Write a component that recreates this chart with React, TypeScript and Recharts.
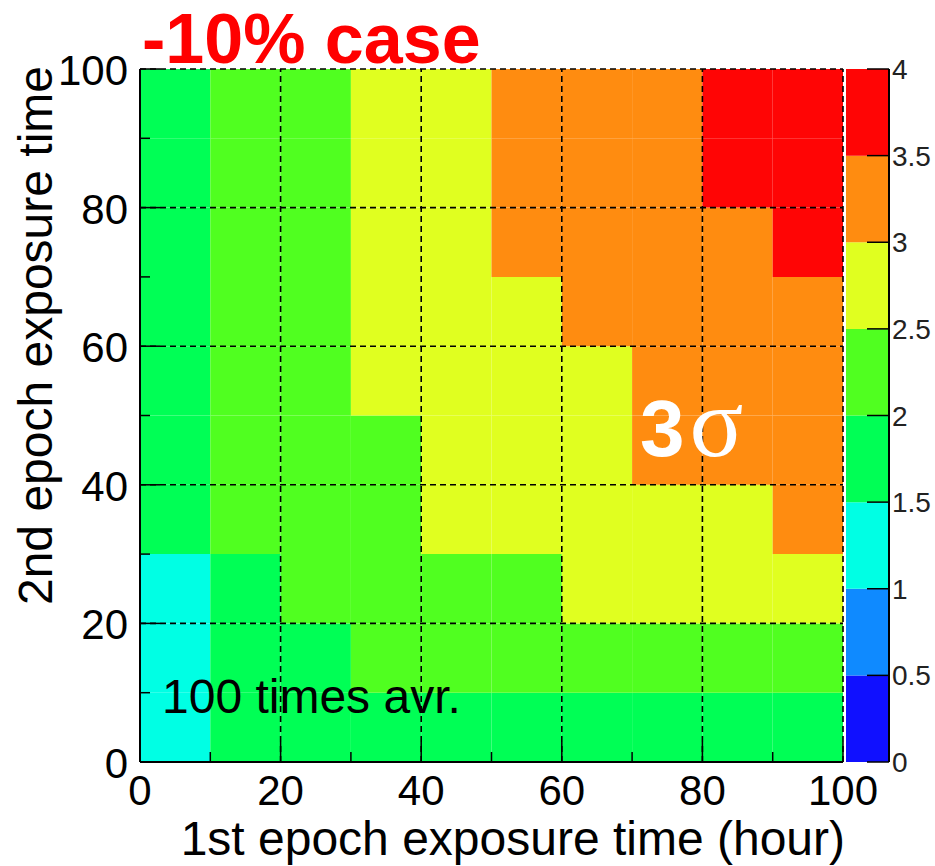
import React from "react";
import { ComposedChart, XAxis, YAxis, ReferenceArea, ReferenceLine } from "recharts";

// bin edges in hours, both epochs
const xEdges = [0, 10, 20, 30, 40, 50, 60, 70, 80, 90, 100];
const yEdges = [0, 10, 20, 30, 40, 50, 60, 70, 80, 90, 100];
const axisTicks = [0, 10, 20, 30, 40, 50, 60, 70, 80, 90, 100];
const gridValues = [20, 40, 60, 80, 100];

// significance (sigma), one row per 2nd-epoch bin from bottom to top,
// columns are the 1st-epoch bins
const row0 = [1.25, 1.62, 1.7, 1.76, 1.81, 1.85, 1.88, 1.91, 1.94, 1.96];
const row1 = [1.32, 1.8, 1.95, 2.08, 2.15, 2.21, 2.26, 2.3, 2.34, 2.37];
const row2 = [1.38, 1.92, 2.1, 2.25, 2.36, 2.45, 2.55, 2.63, 2.7, 2.76];
const row3 = [1.55, 2.02, 2.2, 2.38, 2.52, 2.63, 2.74, 2.84, 2.93, 3.02];
const row4 = [1.6, 2.06, 2.27, 2.45, 2.6, 2.73, 2.86, 3.05, 3.12, 3.18];
const row5 = [1.64, 2.1, 2.31, 2.52, 2.66, 2.8, 2.93, 3.08, 3.18, 3.25];
const row6 = [1.67, 2.13, 2.35, 2.57, 2.72, 2.87, 3.01, 3.14, 3.24, 3.31];
const row7 = [1.7, 2.16, 2.38, 2.61, 2.77, 3.02, 3.08, 3.2, 3.31, 3.52];
const row8 = [1.72, 2.18, 2.41, 2.65, 2.81, 3.05, 3.13, 3.26, 3.55, 3.62];
const row9 = [1.74, 2.2, 2.43, 2.68, 2.85, 3.09, 3.18, 3.31, 3.6, 3.68];
const sigRows = [row0, row1, row2, row3, row4, row5, row6, row7, row8, row9];

// contour levels of the palette
const levelEdges = [0, 0.5, 1, 1.5, 2, 2.5, 3, 3.5, 4];
const levelColors = ["#1010ff", "#0f8aff", "#00ffe4", "#00ff55", "#50ff20", "#e0ff20", "#ff8c10", "#ff0505"];
const paletteTicks = [0, 0.5, 1, 1.5, 2, 2.5, 3, 3.5, 4];

const SANS = '"Liberation Sans", Arial, Helvetica, sans-serif';
const SERIF = '"Liberation Serif", "DejaVu Serif", serif';
const GRID_DASH = "6 4";
const INK = "#000";

const MAP_W = 935;
const MAP_H = 866;
const MAP_MARGIN = { top: 69, right: 92, bottom: 103, left: 139 };
const PAL_W = 89;
const PAL_H = 733;
const PAL_MARGIN = { top: 20, right: 45, bottom: 20, left: 0 };

function colorFor(v: number) {
  for (let k = 0; k < levelColors.length; k++) {
    if (v >= levelEdges[k] && v < levelEdges[k + 1]) return levelColors[k];
  }
  return levelColors[levelColors.length - 1];
}

const cells = sigRows.flatMap((row, j) =>
  row.map((v, i) => ({
    x1: xEdges[i],
    x2: xEdges[i + 1],
    y1: yEdges[j],
    y2: yEdges[j + 1],
    v,
  }))
);

const bands = levelColors.map((c, k) => ({ lo: levelEdges[k], hi: levelEdges[k + 1], color: c }));

// ticks point into the frame, labels only on the major ones
function XTick(props: any) {
  const { x, y, payload } = props;
  const major = payload.value % 20 === 0;
  return (
    <g>
      <line x1={x} x2={x} y1={y} y2={y - (major ? 20 : 10)} stroke={INK} strokeWidth={1.5} />
      {major && (
        <text x={x} y={y + 43} textAnchor="middle" fontSize={42} fontFamily={SANS} fill="#000" stroke="none">
          {payload.value}
        </text>
      )}
    </g>
  );
}

function YTick(props: any) {
  const { x, y, payload } = props;
  const major = payload.value % 20 === 0;
  return (
    <g>
      <line x1={x} x2={x + (major ? 20 : 10)} y1={y} y2={y} stroke={INK} strokeWidth={1.5} />
      {major && (
        <text x={x - 12} y={y + 16} textAnchor="end" fontSize={42} fontFamily={SANS} fill="#000" stroke="none">
          {payload.value}
        </text>
      )}
    </g>
  );
}

function PaletteTick(props: any) {
  const { x, y, payload } = props;
  return (
    <g>
      <line x1={x} x2={x - 22} y1={y} y2={y} stroke={INK} strokeWidth={1.5} />
      <text x={x + 3} y={y + 10} textAnchor="start" fontSize={28} fontFamily={SANS} fill="#222" stroke="none">
        {payload.value}
      </text>
    </g>
  );
}

function mapAxes(visible: boolean) {
  return [
    <XAxis
      key="x"
      type="number"
      dataKey="x1"
      domain={[0, 100]}
      ticks={axisTicks}
      interval={0}
      height={1}
      tickSize={0}
      tickMargin={0}
      tick={visible ? <XTick /> : false}
      axisLine={visible ? { stroke: INK, strokeWidth: 2 } : false}
      tickLine={false}
      allowDataOverflow
    />,
    <YAxis
      key="y"
      type="number"
      dataKey="y1"
      domain={[0, 100]}
      ticks={axisTicks}
      interval={0}
      width={1}
      tickSize={0}
      tickMargin={0}
      tick={visible ? <YTick /> : false}
      axisLine={visible ? { stroke: INK, strokeWidth: 2 } : false}
      tickLine={false}
      allowDataOverflow
    />,
  ];
}

// filled cells and dashed grid
function SignificanceMap() {
  return (
    <ComposedChart width={MAP_W} height={MAP_H} data={cells} margin={MAP_MARGIN}>
      {cells.map((c, idx) => (
        <ReferenceArea
          key={idx}
          x1={c.x1}
          x2={c.x2}
          y1={c.y1}
          y2={c.y2}
          fill={colorFor(c.v)}
          fillOpacity={1}
          stroke="none"
        />
      ))}
      {gridValues.map((g) => (
        <ReferenceLine key={"gx" + g} x={g} stroke={INK} strokeWidth={1.6} strokeDasharray={GRID_DASH} />
      ))}
      {gridValues.map((g) => (
        <ReferenceLine key={"gy" + g} y={g} stroke={INK} strokeWidth={1.6} strokeDasharray={GRID_DASH} />
      ))}
      {mapAxes(false)}
    </ComposedChart>
  );
}

// axes, titles and annotations, layered over the cells
function MapFrame() {
  return (
    <ComposedChart width={MAP_W} height={MAP_H} data={cells} margin={MAP_MARGIN}>
      {mapAxes(true)}
      <text x={142} y={63} fontSize={70} fontWeight="bold" fontFamily={SANS} fill="#ff0000">
        -10% case
      </text>
      <text x={845} y={855} textAnchor="end" fontSize={48} fontFamily={SANS} fill="#000">
        1st epoch exposure time (hour)
      </text>
      <text
        transform="translate(52,66) rotate(-90)"
        textAnchor="end"
        fontSize={48}
        fontFamily={SANS}
        fill="#000"
      >
        2nd epoch exposure time
      </text>
      <text x={640} y={456} fill="#fff">
        <tspan fontSize={80} fontWeight="bold" fontFamily={SANS}>3</tspan>
        <tspan dx={5} fontSize={100} fontFamily={SERIF}>σ</tspan>
      </text>
      <text x={162} y={713} fontSize={48} fontFamily={SANS} fill="#000">
        100 times avr.
      </text>
    </ComposedChart>
  );
}

function paletteAxes(visible: boolean) {
  return [
    <XAxis key="x" type="number" dataKey="lo" domain={[0, 1]} allowDataOverflow hide />,
    <YAxis
      key="y"
      type="number"
      orientation="right"
      dataKey="hi"
      domain={[0, 4]}
      ticks={paletteTicks}
      interval={0}
      width={1}
      tickSize={0}
      tickMargin={0}
      tick={visible ? <PaletteTick /> : false}
      axisLine={visible ? { stroke: INK, strokeWidth: 2 } : false}
      tickLine={false}
      allowDataOverflow
    />,
  ];
}

function Palette() {
  return (
    <ComposedChart width={PAL_W} height={PAL_H} data={bands} margin={PAL_MARGIN}>
      {bands.map((b) => (
        <ReferenceArea
          key={b.lo}
          x1={0}
          x2={1}
          y1={b.lo}
          y2={b.hi}
          fill={b.color}
          fillOpacity={1}
          stroke="none"
        />
      ))}
      {paletteAxes(false)}
    </ComposedChart>
  );
}

function PaletteFrame() {
  return (
    <ComposedChart width={PAL_W} height={PAL_H} data={bands} margin={PAL_MARGIN}>
      {paletteAxes(true)}
    </ComposedChart>
  );
}

const layer: React.CSSProperties = { position: "absolute", left: 0, top: 0 };
const palLayer: React.CSSProperties = { position: "absolute", left: 846, top: 49 };

export default function App() {
  return (
    <div style={{ position: "absolute", left: 0, top: 0, width: MAP_W, height: MAP_H, background: "#fff" }}>
      <div style={layer}>
        <SignificanceMap />
      </div>
      <div style={palLayer}>
        <Palette />
      </div>
      <div style={layer}>
        <MapFrame />
      </div>
      <div style={palLayer}>
        <PaletteFrame />
      </div>
    </div>
  );
}
